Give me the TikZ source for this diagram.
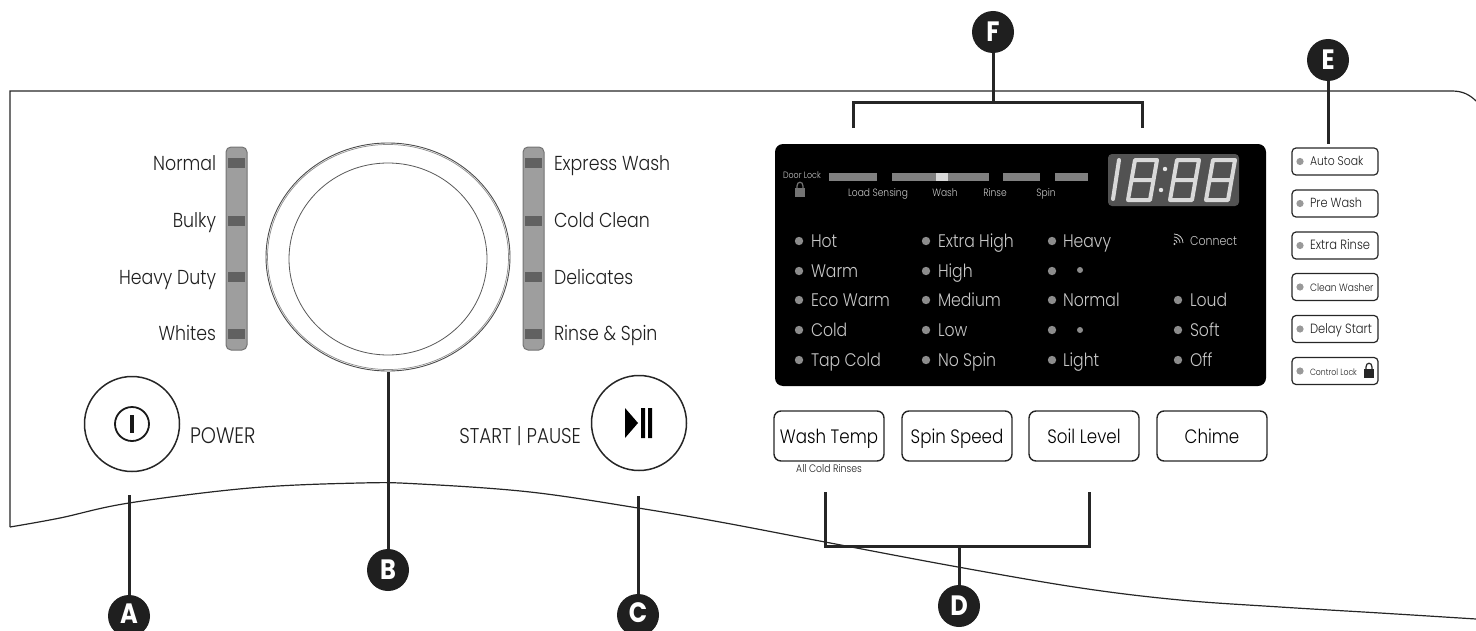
\documentclass[tikz,border=0pt]{standalone}
\usepackage{fontspec}
\setmainfont{Poppins}[UprightFont=* Light,BoldFont=* Bold,FakeStretch=0.86]
\usetikzlibrary{shapes.geometric}
\definecolor{ledgray}{gray}{0.55}
\definecolor{paneltext}{gray}{0.78}
\tikzset{
  x=0.5pt,y=-0.5pt,
  every node/.style={inner sep=0pt,outer sep=0pt},
  lead/.style={draw=black!85,line width=1.5pt},
  badge/.style={circle,fill=black!88,minimum size=21pt,text=white,font=\fontsize{14}{14}\selectfont\bfseries},
  lab/.style={anchor=base,font=\fontsize{10.1}{11}\selectfont,text=black!88},
  labl/.style={lab,anchor=base east},
  labr/.style={lab,anchor=base west},
  ptxt/.style={anchor=base west,font=\fontsize{9.1}{10}\selectfont,text=paneltext},
  tiny/.style={anchor=base,font=\fontsize{5.3}{6}\selectfont,text=paneltext},
  led/.style={circle,fill=ledgray,minimum size=4.2pt},
  cell/.style={fill=black!62},
  bigbtn/.style={draw=black!85,line width=0.7pt,rounded corners=3.5pt,minimum width=55pt,minimum height=25pt,font=\fontsize{9.7}{10}\selectfont,text height=9pt,text depth=2pt},
  sidebtn/.style={draw=black!85,line width=0.6pt,rounded corners=2pt,minimum width=43pt,minimum height=13.5pt},
  sidetxt/.style={anchor=base west,text=black!88},
  roundbtn/.style={circle,draw=black!85,line width=0.75pt,minimum size=47.5pt},
  seven/.style={draw=black!15,line width=2pt,line join=round,line cap=round},
}
\newcommand{\eightat}[2]{%
  \draw[seven,shift={(#1,#2)}] (5,0) -- (27,0) -- (20,40) -- (-2,40) -- cycle (1.5,20) -- (23.5,20);
}
\newcommand{\lockicon}[3]{%
  \fill[#3,shift={(#1,#2)}] (-5,-2) rectangle (5,7);
  \draw[#3,line width=0.6pt,shift={(#1,#2)}] (-3,-2) -- (-3,-4) .. controls (-3,-9) and (3,-9) .. (3,-4) -- (3,-2);
}
\begin{document}
\begin{tikzpicture}
\useasboundingbox (0,0) rectangle (1476,631);
\clip (0,0) rectangle (1476,631);

% panel outline
\draw[line width=0.6pt,black!85] (10,527) -- (10,91) -- (1452,91) .. controls (1463,91) and (1470,95) .. (1476,101);
\draw[line width=0.6pt,black!85] plot[smooth,tension=0.6] coordinates {(10,527) (60,518) (129,503) (250,488) (360,483) (420,484) (530,492) (638,508) (720,522) (825,542) (958,567) (1081,588) (1180,600) (1280,607) (1380,613) (1476,619)};

% program bars
\foreach \bx/\nm in {236.5/pl,533.5/pr}{
  \node[rectangle,rounded corners=2.5pt,draw=black!55,fill=black!38,line width=0.5pt,minimum width=10.5pt,minimum height=101.5pt] (\nm) at (\bx,248.5) {};
  \foreach \cy in {163,221,277,334}
    \fill[cell] (\bx-8.5,\cy-5) rectangle (\bx+8.5,\cy+5);
}
\foreach \ty/\t [count=\i] in {170/Normal,227/Bulky,284/Heavy Duty,340/Whites}
  \node[labl] (ltext\i) at (216,\ty) {\t};
\foreach \ty/\t [count=\i] in {170/Express Wash,227/Cold Clean,284/Delicates,340/Rinse \& Spin}
  \node[labr] (rtext\i) at (554,\ty) {\t};

% dial
\node[ellipse,draw=black!70,line width=0.45pt,minimum width=122pt,minimum height=114pt] (dial) at (388,257) {};
\node[ellipse,draw=black!45,line width=0.35pt,minimum width=120.5pt,minimum height=112.5pt] (dialb) at (388,257) {};
\node[ellipse,draw=black!65,line width=0.4pt,minimum width=99pt,minimum height=96pt] (dialin) at (388,259) {};

% round buttons
\node[roundbtn] (power) at (132,424) {};
\node[circle,draw=black!90,line width=0.9pt,minimum size=17pt] (powerring) at (132,424) {};
\draw[line width=2pt,black!90] (powerring.center)+(0,-9) -- +(0,9);
\node[lab,anchor=base west,font=\fontsize{11.2}{12}\selectfont] (powertxt) at (190,443) {POWER};
\node[roundbtn] (start) at (639,423) {};
\fill[black] (625,408) -- (638,423) -- (625,438) -- cycle;
\fill[black] (641,408) rectangle (645,438) (648,408) rectangle (652,438);
\node[lab,anchor=base east,font=\fontsize{10.7}{12}\selectfont] (starttxt) at (581,443) {START | PAUSE};

% display panel
\fill[black] (775,144) [rounded corners=4pt] -- (775,386) -- (1266,386) -- (1266,144) -- cycle;
\fill[black!68,rounded corners=2pt] (1108,154) rectangle (1239,206);
\draw[seven] (1119,160) -- (1113,199);
\eightat{1130}{160}
\eightat{1172}{160}
\eightat{1208}{160}
\fill[black!10] (1165,169) circle[radius=2.2] (1161,190) circle[radius=2.2];
\foreach \a/\b in {829/877,892/989,1003/1040,1055/1088}
  \fill[black!50] (\a,173) rectangle (\b,181);
\fill[black!15] (936,173) rectangle (948,181);
\node[tiny,anchor=base west,font=\fontsize{4.6}{5}\selectfont] (doorlock) at (783,178) {Door Lock};
\lockicon{800}{190}{black!55}
\foreach \cx/\t [count=\i] in {878/Load Sensing,945/Wash,995/Rinse,1046/Spin}
  \node[tiny] (stage\i) at (\cx,196) {\t};

% LED rows
\foreach \x/\y/\t [count=\i] in {
  811/247/Hot,811/277/Warm,811/306/Eco Warm,811/336/Cold,811/366/Tap Cold,
  938/247/Extra High,938/277/High,938/306/Medium,938/336/Low,938/366/No Spin,
  1063/247/Heavy,1063/306/Normal,1063/366/Light,
  1190/306/Loud,1190/336/Soft,1190/366/Off}
  \node[ptxt] (p\i) at (\x,\y) {\t};
\foreach \x/\y [count=\i] in {
  799/241,799/271,799/300,799/330,799/360,
  926/241,926/271,926/300,926/330,926/360,
  1052/241,1052/271,1052/300,1052/330,1052/360,
  1178/300,1178/330,1178/360}
  \node[led] (d\i) at (\x,\y) {};
\node[led,minimum size=3pt] (soilhi) at (1080,270) {};
\node[led,minimum size=3pt] (soillo) at (1080,330) {};
\node[ptxt,font=\fontsize{6.4}{7}\selectfont] (connect) at (1190,245) {Connect};
\draw[paneltext,line width=0.4pt] (1174,240) arc[start angle=270,end angle=360,radius=3] (1174,237) arc[start angle=270,end angle=360,radius=6] (1174,234) arc[start angle=270,end angle=360,radius=9];
\fill[paneltext] (1174.5,244) circle[radius=1.2];

% big buttons
\node[bigbtn] (wash) at (829,436) {Wash Temp};
\node[bigbtn] (spin) at (957,436) {Spin Speed};
\node[bigbtn] (soil) at (1084,436) {Soil Level};
\node[bigbtn] (chime) at (1212,436) {Chime};
\node[lab,font=\fontsize{5.4}{6}\selectfont] (allcold) at (829,472) {All Cold Rinses};

% side buttons
\foreach \y/\t/\fs [count=\i] in {161.5/Auto Soak/6.3,203.5/Pre Wash/6.6,245.5/Extra Rinse/6.7,287/Clean Washer/5.3,329/Delay Start/6.7,371/Control Lock/4.5}{
  \node[sidebtn] (side\i) at (1335,\y) {};
  \node[led,minimum size=3.6pt,fill=black!40] (sled\i) at (1300,\y) {};
  \pgfmathsetmacro{\by}{\y+4}
  \node[sidetxt,font=\fontsize{\fs}{7}\selectfont] (stxt\i) at (1310,\by) {\t};
}
\lockicon{1369}{371}{black!85}

% callouts
\node[badge] (A) at (129,616) {\raisebox{-3.5pt}[0pt][0pt]{A}};
\node[badge] (B) at (388,570) {B};
\node[badge] (C) at (638,615) {\raisebox{-3.5pt}[0pt][0pt]{C}};
\node[badge] (D) at (959,606) {D};
\node[badge] (E) at (1328,60) {E};
\node[badge] (F) at (993,32) {F};
\coordinate (Atop) at (129,495);
\coordinate (Btop) at (388,372);
\coordinate (Ctop) at (638,496);
\coordinate (Dmid) at (959,546);
\coordinate (Dl) at (825,492);
\coordinate (Dr) at (1089,492);
\coordinate (Eend) at (1328,144);
\coordinate (Fmid) at (993,103);
\coordinate (Fl) at (853,128);
\coordinate (Fr) at (1142,128);
\draw[lead] (A) -- (Atop);
\draw[lead] (B) -- (Btop);
\draw[lead] (C) -- (Ctop);
\draw[lead] (D) -- (Dmid);
\draw[lead] (E) -- (Eend);
\draw[lead] (F) -- (Fmid);
\draw[lead] (Dl) -- (Dl|-Dmid) -- (Dr|-Dmid) -- (Dr);
\draw[lead] (Fl) -- (Fl|-Fmid) -- (Fr|-Fmid) -- (Fr);
\end{tikzpicture}
\end{document}
